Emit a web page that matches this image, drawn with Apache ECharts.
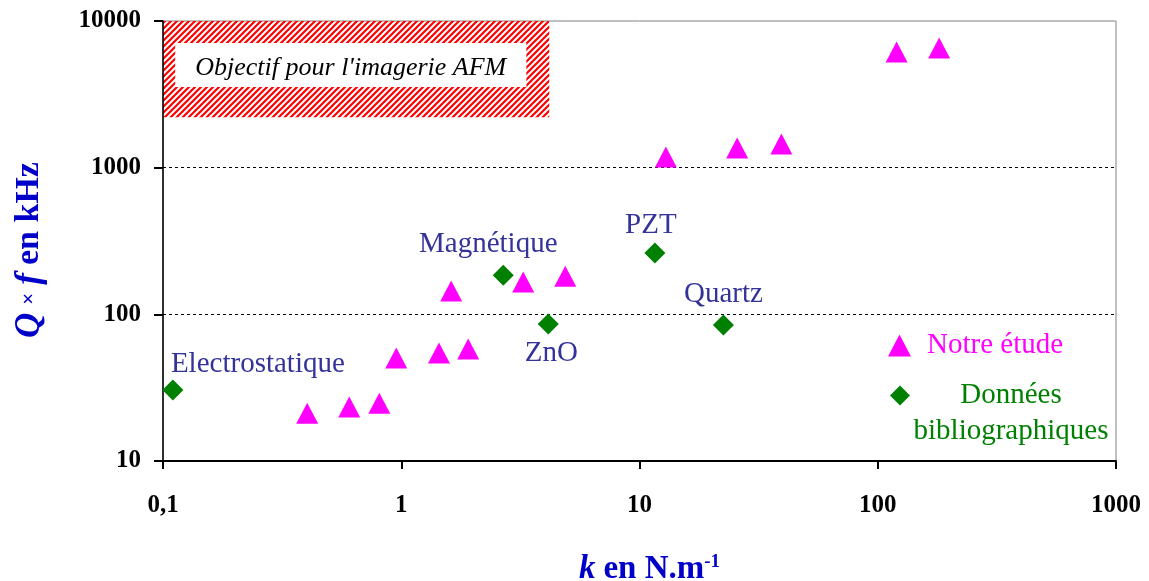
<!DOCTYPE html>
<html><head><meta charset="utf-8">
<script src="https://cdn.jsdelivr.net/npm/echarts@6/dist/echarts.min.js"></script>
<style>html,body{margin:0;padding:0;background:#fff}#c{width:1149px;height:581px}</style>
</head><body><div id="c"></div>
<script>
// ---- data ----
const xTicks = [0.1, 1, 10, 100, 1000];
const xTickLabels = ['0,1', '1', '10', '100', '1000'];
const yTicks = [10, 100, 1000, 10000];
const yTickLabels = ['10', '100', '1000', '10000'];

const notreK  = [0.403, 0.605, 0.809, 0.953, 1.44, 1.91, 1.62, 3.25, 4.88, 12.9, 25.7, 39.4, 120, 181];
const notreQf = [21.2, 23.3, 24.8, 50.4, 54.5, 58.0, 144, 166, 182, 1183, 1361, 1449, 6150, 6550];

const biblioK  = [0.110, 2.68, 4.14, 11.6, 22.5];
const biblioQf = [30.5, 185, 85.9, 262, 84.5];
const biblioNames = ['Electrostatique', 'Magnétique', 'ZnO', 'PZT', 'Quartz'];

const objectiveK  = [0.1, 4.18];
const objectiveQf = [2210, 10000];
const objectiveTextK  = [0.1125, 3.35];
const objectiveTextQf = [3550, 7080];
const objectiveLabel = "Objectif pour l'imagerie AFM";

const seriesNames = ['Notre étude', 'Données bibliographiques'];

// ---- styles ----
const SERIF = '"Liberation Serif", "Times New Roman", serif';
const labelOffsets = [[85, -26], [-15, -31], [3, 29], [-4, -28], [0, -31]];

const hatch = document.createElement('canvas');
hatch.width = 6; hatch.height = 6;
(function () {
  const g = hatch.getContext('2d');
  g.strokeStyle = '#ff0000';
  g.lineWidth = 2.2;
  g.beginPath();
  g.moveTo(-1, 7); g.lineTo(7, -1);
  g.moveTo(-4, 4); g.lineTo(4, -4);
  g.moveTo(2, 10); g.lineTo(10, 2);
  g.stroke();
})();

const chart = echarts.init(document.getElementById('c'), null, {renderer: 'canvas'});
chart.setOption({
  animation: false,
  backgroundColor: '#ffffff',
  grid: {left: 163, right: 33, top: 21, bottom: 120, show: true, borderColor: '#808080', borderWidth: 1,
         backgroundColor: 'transparent', containLabel: false, outerBoundsMode: 'none'},
  xAxis: {
    type: 'log', logBase: 10, min: xTicks[0], max: xTicks[xTicks.length - 1], z: 3,
    axisLine: {show: true, lineStyle: {color: '#000', width: 2}},
    axisTick: {show: true, length: 8, lineStyle: {color: '#000', width: 2}},
    axisLabel: {formatter: (v, i) => xTickLabels[i], fontSize: 25, fontWeight: 'bold', fontFamily: SERIF, color: '#000', margin: 32},
    splitLine: {show: false}, minorTick: {show: false},
    name: '{k|k} {b|en N.m}{s|-1}', nameLocation: 'middle', nameGap: 92,
    nameTextStyle: {
      color: '#0000c8', fontSize: 32, fontWeight: 'bold', fontFamily: SERIF, padding: [0, 0, 0, 20],
      rich: {
        k: {color: '#0000c8', fontSize: 33, fontWeight: 'bold', fontStyle: 'italic', fontFamily: SERIF},
        b: {color: '#0000c8', fontSize: 33, fontWeight: 'bold', fontFamily: SERIF},
        s: {color: '#0000c8', fontSize: 19, fontWeight: 'bold', fontFamily: SERIF, verticalAlign: 'top'}
      }
    }
  },
  yAxis: {
    type: 'log', logBase: 10, min: yTicks[0], max: yTicks[yTicks.length - 1], z: 3,
    axisLine: {show: true, lineStyle: {color: '#000', width: 1.5}},
    axisTick: {show: true, length: 9, lineStyle: {color: '#000', width: 2}},
    axisLabel: {formatter: (v, i) => yTickLabels[i], fontSize: 25, fontWeight: 'bold', fontFamily: SERIF, color: '#000', margin: 22},
    splitLine: {show: true, showMinLine: false, showMaxLine: false, lineStyle: {color: '#000', width: 1, type: [3, 3]}},
    minorTick: {show: false},
    name: '{q|Q} {x|×} {q|f} {b|en kHz}', nameLocation: 'middle', nameGap: 116, nameRotate: 90,
    nameTextStyle: {
      color: '#0000c8', fontSize: 32, fontWeight: 'bold', fontFamily: SERIF, padding: [0, 18, 0, 0],
      rich: {
        q: {color: '#0000c8', fontSize: 35, fontWeight: 'bold', fontStyle: 'italic', fontFamily: SERIF},
        x: {color: '#0000c8', fontSize: 21, fontWeight: 'bold', fontFamily: SERIF},
        b: {color: '#0000c8', fontSize: 34, fontWeight: 'bold', fontFamily: SERIF}
      }
    }
  },
  legend: [
    {
      data: [{name: seriesNames[0], icon: 'triangle'}], left: 888, top: 331, padding: 0,
      itemWidth: 23, itemHeight: 22, selectedMode: false,
      textStyle: {color: '#ff00ff', fontSize: 29, fontFamily: SERIF, padding: [0, 0, 0, 11]}
    },
    {
      data: [{name: seriesNames[1], icon: 'diamond'}], left: 890, top: 381, padding: 0,
      itemWidth: 20, itemHeight: 20, selectedMode: false,
      formatter: () => '{a|Données}\n{b|bibliographiques}',
      textStyle: {
        color: '#008000', fontSize: 29, fontFamily: SERIF,
        rich: {
          a: {color: '#008000', fontSize: 29, fontFamily: SERIF, padding: [42, 0, 0, 0], width: 192, align: 'center'},
          b: {color: '#008000', fontSize: 29, fontFamily: SERIF, lineHeight: 42, width: 192, align: 'center'}
        }
      }
    }
  ],
  series: [
    {
      name: seriesNames[0], type: 'scatter', symbol: 'triangle', symbolSize: [22, 21], z: 4,
      itemStyle: {color: '#ff00ff', opacity: 1},
      data: notreK.map((k, i) => [k, notreQf[i]]),
      markArea: {
        silent: true,
        data: [
          [
            {coord: [objectiveK[0], objectiveQf[0]], itemStyle: {color: {image: hatch, repeat: 'repeat'}, opacity: 1, borderWidth: 0}, label: {show: false}},
            {coord: [objectiveK[1], objectiveQf[1]]}
          ],
          [
            {coord: [objectiveTextK[0], objectiveTextQf[0]], itemStyle: {color: '#ffffff', opacity: 1, borderWidth: 0},
             label: {show: true, position: 'inside', offset: [0, 3], formatter: objectiveLabel, color: '#000', fontSize: 26, fontStyle: 'italic', fontFamily: SERIF}},
            {coord: [objectiveTextK[1], objectiveTextQf[1]]}
          ]
        ]
      }
    },
    {
      name: seriesNames[1], type: 'scatter', symbol: 'diamond', symbolSize: 21, z: 4,
      itemStyle: {color: '#008000', opacity: 1},
      data: biblioK.map((k, i) => ({
        value: [k, biblioQf[i]],
        label: {show: true, position: 'inside', offset: labelOffsets[i], formatter: biblioNames[i],
                color: '#33339a', fontSize: 29, fontFamily: SERIF}
      }))
    }
  ]
});
</script></body></html>
